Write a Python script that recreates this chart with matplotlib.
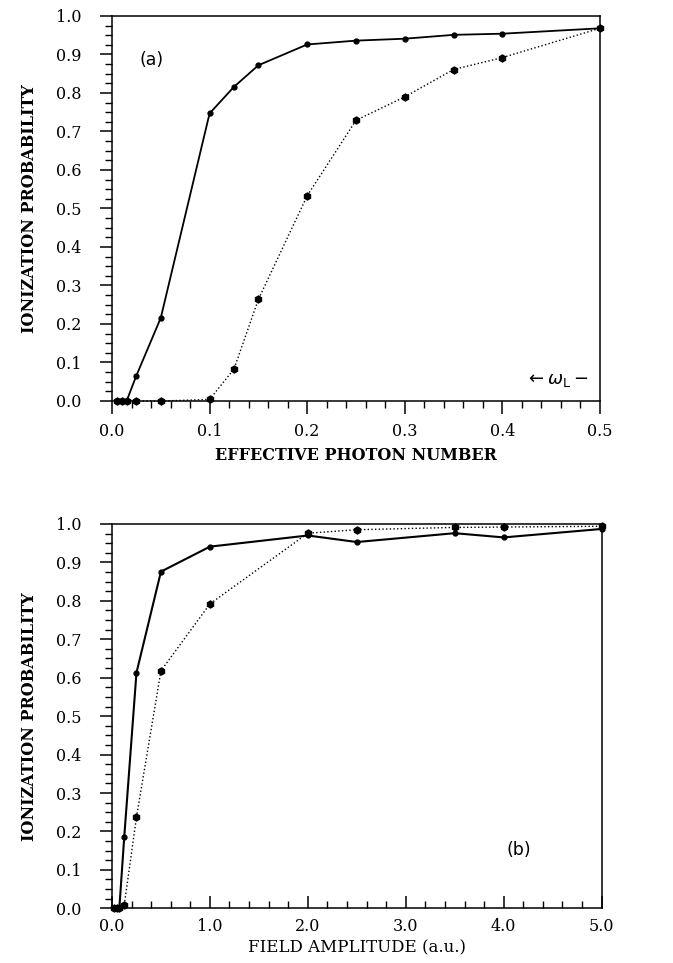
import matplotlib
matplotlib.use('Agg')
import matplotlib.pyplot as plt
from matplotlib.ticker import MultipleLocator, FormatStrFormatter

plt.rcParams['font.family'] = 'DejaVu Serif'
plt.rcParams['mathtext.fontset'] = 'dejavusans'

# panel (a): effective photon number
xa_solid = [0.005, 0.01, 0.015, 0.025, 0.05, 0.1, 0.125, 0.15, 0.2, 0.25, 0.3, 0.35, 0.4, 0.5]
ya_solid = [0.0, 0.0, 0.0, 0.066, 0.216, 0.747, 0.816, 0.872, 0.926, 0.936, 0.941, 0.951, 0.954, 0.968]
xa_dot = [0.005, 0.01, 0.015, 0.025, 0.05, 0.1, 0.125, 0.15, 0.2, 0.25, 0.3, 0.35, 0.4, 0.5]
ya_dot = [0.0, 0.0, 0.0, 0.0, 0.0, 0.004, 0.083, 0.264, 0.533, 0.729, 0.79, 0.861, 0.892, 0.968]

# panel (b): field amplitude
xb_solid = [0.025, 0.05, 0.075, 0.125, 0.25, 0.5, 1.0, 2.0, 2.5, 3.5, 4.0, 5.0]
yb_solid = [0.0, 0.0, 0.0, 0.185, 0.613, 0.876, 0.941, 0.970, 0.953, 0.976, 0.965, 0.987]
xb_dot = [0.025, 0.05, 0.075, 0.125, 0.25, 0.5, 1.0, 2.0, 2.5, 3.5, 4.0, 5.0]
yb_dot = [0.0, 0.0, 0.0, 0.008, 0.237, 0.618, 0.792, 0.976, 0.985, 0.991, 0.992, 0.994]

fig = plt.figure(figsize=(6.73, 9.63), dpi=100)
ax1 = fig.add_axes([0.1664, 0.5836, 0.7251, 0.3998])
ax2 = fig.add_axes([0.1664, 0.0568, 0.7275, 0.3991])

def style(ax, xmax, xmaj, xmin, xdir, xfmt):
    ax.set_xlim(0, xmax)
    ax.set_ylim(0, 1.0)
    ax.xaxis.set_major_locator(MultipleLocator(xmaj))
    ax.xaxis.set_minor_locator(MultipleLocator(xmin))
    ax.yaxis.set_major_locator(MultipleLocator(0.1))
    ax.yaxis.set_minor_locator(MultipleLocator(0.025))
    ax.xaxis.set_major_formatter(FormatStrFormatter(xfmt))
    ax.yaxis.set_major_formatter(FormatStrFormatter('%.1f'))
    ax.tick_params(axis='x', which='both', direction=xdir, top=False, labelsize=11.5, pad=7)
    ax.tick_params(axis='y', which='both', direction='out', right=False, labelsize=11.5, pad=13)
    ax.tick_params(which='major', length=9, width=1.1)
    ax.tick_params(which='minor', length=5, width=1.0)
    for s in ax.spines.values():
        s.set_linewidth(1.1)
    ax.set_ylabel('IONIZATION PROBABILITY', fontsize=11.5, fontweight='bold', labelpad=13)

ax1.plot(xa_solid, ya_solid, '-', color='black', lw=1.3, marker='o', ms=3.5, clip_on=False)
ax1.plot(xa_dot, ya_dot, ':', color='black', lw=1.0, marker='h', ms=5, clip_on=False)
style(ax1, 0.5, 0.1, 0.02, 'out', '%.1f')
ax1.set_xlabel('EFFECTIVE PHOTON NUMBER', fontsize=11.5, fontweight='bold', labelpad=5)
ax1.text(0.041, 0.886, '(a)', fontsize=12.5, family='DejaVu Sans', ha='center', va='center')
ax1.text(0.456, 0.055, r'$\leftarrow\omega_{\rm L}-$', fontsize=13, ha='center', va='center')

ax2.plot(xb_solid, yb_solid, '-', color='black', lw=1.5, marker='o', ms=3.5, clip_on=False)
ax2.plot(xb_dot, yb_dot, ':', color='black', lw=1.0, marker='h', ms=5, clip_on=False)
style(ax2, 5.0, 1.0, 0.2, 'in', '%.1f')
ax2.set_xlabel('FIELD AMPLITUDE (a.u.)', fontsize=12, labelpad=3)
ax2.text(4.15, 0.152, '(b)', fontsize=12.5, family='DejaVu Sans', ha='center', va='center')

fig.savefig('out.png', dpi=100)
